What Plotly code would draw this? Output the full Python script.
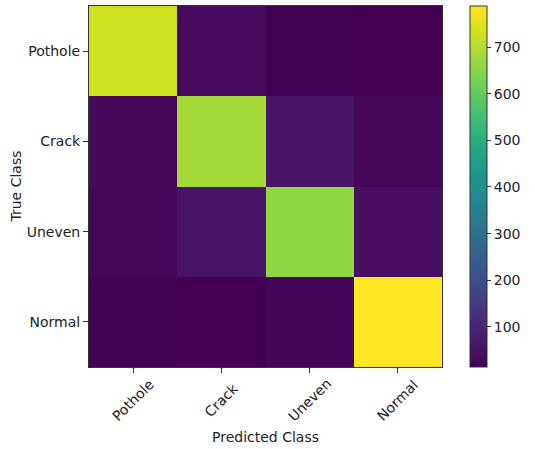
import plotly.graph_objects as go

true_classes = ["Pothole", "Crack", "Uneven", "Normal"]
pred_classes = ["Pothole", "Crack", "Uneven", "Normal"]

row_pothole = [728, 35, 17, 14]
row_crack = [32, 682, 58, 26]
row_uneven = [26, 55, 658, 41]
row_normal = [17, 14, 23, 788]

cbar_ticks = [100, 200, 300, 400, 500, 600, 700]

z = [row_pothole, row_crack, row_uneven, row_normal]

# matplotlib viridis sampled at 20 evenly spaced points
viridis_hex = ["#440154", "#481467", "#482576", "#453781", "#404688",
               "#39558c", "#33638d", "#2d718e", "#287d8e", "#238a8d",
               "#1f968b", "#20a386", "#29af7f", "#3dbc74", "#56c667",
               "#75d054", "#95d840", "#bade28", "#dde318", "#fde725"]
colorscale = [[i / (len(viridis_hex) - 1), c] for i, c in enumerate(viridis_hex)]

FONT = "DejaVu Sans"
TXT = "#222222"

fig = go.Figure(go.Heatmap(
    z=z, x=pred_classes, y=true_classes,
    colorscale=colorscale, zmin=14, zmax=788,
    colorbar=dict(
        x=1.079, xanchor="left", xref="paper", xpad=0, ypad=0,
        y=0.5, yanchor="middle", len=1, lenmode="fraction",
        thickness=17, outlinewidth=1, outlinecolor="#333333",
        tickmode="array", tickvals=cbar_ticks,
        ticks="outside", ticklen=4, tickcolor="#333333",
        tickfont=dict(family=FONT, size=14, color=TXT),
    ),
))

fig.update_xaxes(
    showticklabels=False, ticks="outside", ticklen=5, tickcolor="#333333",
    showline=True, linecolor="#333333", linewidth=1, mirror=True,
    showgrid=False, zeroline=False,
)
fig.update_yaxes(
    autorange="reversed", ticks="outside", ticklen=5, tickcolor="#333333",
    tickfont=dict(family=FONT, size=14, color=TXT),
    showline=True, linecolor="#333333", linewidth=1, mirror=True,
    showgrid=False, zeroline=False,
)

annotations = []
for c in pred_classes:
    annotations.append(dict(
        x=c, xref="x", y=0, yref="paper", text=c, showarrow=False,
        textangle=-45, xanchor="center", yanchor="middle", yshift=-33,
        font=dict(family=FONT, size=14, color=TXT),
    ))
annotations.append(dict(
    x=0.5, xref="paper", y=0, yref="paper", text="Predicted Class",
    showarrow=False, xanchor="center", yanchor="middle", yshift=-70,
    font=dict(family=FONT, size=14, color=TXT),
))
annotations.append(dict(
    x=0, xref="paper", y=0.5, yref="paper", text="True Class",
    showarrow=False, textangle=-90, xanchor="center", yanchor="middle", xshift=-74,
    font=dict(family=FONT, size=14, color=TXT),
))

fig.update_layout(
    width=535, height=449,
    margin=dict(l=89, r=93, t=6, b=82),
    paper_bgcolor="white", plot_bgcolor="white",
    font=dict(family=FONT, size=14, color=TXT),
    annotations=annotations,
)

fig.write_html("out.html", config={"displayModeBar": False},
               post_script="document.body.style.margin='0';")
